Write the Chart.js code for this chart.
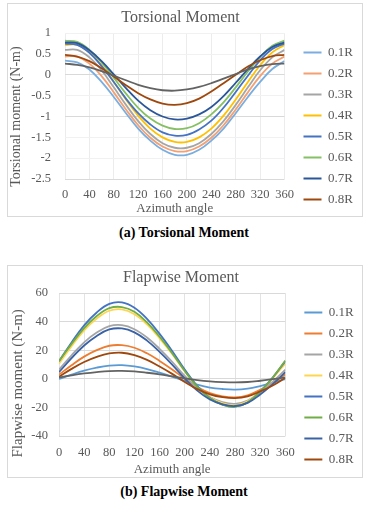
<!DOCTYPE html>
<html>
<head>
<meta charset="utf-8">
<script src="https://cdn.jsdelivr.net/npm/chart.js@4.4.1/dist/chart.umd.min.js"></script>
<style>
  body { margin: 0; background: #fff; font-family: "Liberation Serif", serif; }
  .frame { position: absolute; left: 7px; width: 356px; border: 1px solid #d9d9d9; box-sizing: border-box; }
  .frame canvas { display: block; }
  .caption { position: absolute; left: 0; width: 368px; text-align: center; font-weight: bold; font-size: 14px; line-height: 16px; color: #000; }
</style>
</head>
<body>
<div class="frame" style="top:3px;height:214px"><canvas id="torsion" width="354" height="212"></canvas></div>
<div class="caption" style="top:225px">(a) Torsional Moment</div>
<div class="frame" style="top:265px;height:213px"><canvas id="flap" width="354" height="211"></canvas></div>
<div class="caption" style="top:484px">(b) Flapwise Moment</div>
<script>
// azimuth angle (deg)
const angles = [0, 20, 40, 60, 80, 100, 120, 140, 160, 180, 200, 220, 240, 260, 280, 300, 320, 340, 360];
const radii = ['0.1R', '0.2R', '0.3R', '0.4R', '0.5R', '0.6R', '0.7R', '0.8R', '0.9R'];

// torsional moment (N-m)
const torsion01 = [0.34, 0.30, 0.13, -0.17, -0.53, -0.92, -1.29, -1.58, -1.80, -1.92, -1.92, -1.80, -1.58, -1.29, -0.92, -0.53, -0.17, 0.14, 0.33];
const torsion02 = [0.44, 0.44, 0.27, -0.03, -0.42, -0.83, -1.21, -1.51, -1.72, -1.83, -1.83, -1.72, -1.51, -1.21, -0.83, -0.42, -0.03, 0.27, 0.44];
const torsion03 = [0.60, 0.60, 0.42, 0.11, -0.30, -0.72, -1.11, -1.42, -1.64, -1.75, -1.75, -1.64, -1.42, -1.11, -0.72, -0.30, 0.11, 0.42, 0.60];
const torsion04 = [0.72, 0.72, 0.54, 0.23, -0.17, -0.59, -0.98, -1.29, -1.50, -1.61, -1.61, -1.50, -1.29, -0.98, -0.59, -0.17, 0.23, 0.54, 0.72];
const torsion05 = [0.75, 0.72, 0.53, 0.21, -0.17, -0.57, -0.92, -1.19, -1.38, -1.46, -1.44, -1.31, -1.10, -0.79, -0.41, -0.02, 0.35, 0.62, 0.75];
const torsion06 = [0.82, 0.79, 0.60, 0.30, -0.07, -0.45, -0.79, -1.05, -1.22, -1.30, -1.28, -1.16, -0.95, -0.66, -0.30, 0.08, 0.43, 0.70, 0.82];
const torsion07 = [0.78, 0.76, 0.59, 0.33, 0.01, -0.32, -0.62, -0.85, -1.00, -1.07, -1.05, -0.95, -0.77, -0.51, -0.19, 0.14, 0.44, 0.67, 0.78];
const torsion08 = [0.48, 0.44, 0.33, 0.16, -0.04, -0.25, -0.44, -0.59, -0.69, -0.72, -0.68, -0.57, -0.40, -0.20, 0.00, 0.20, 0.35, 0.45, 0.48];
const torsion09 = [0.27, 0.24, 0.18, 0.09, -0.02, -0.13, -0.24, -0.32, -0.37, -0.38, -0.35, -0.29, -0.20, -0.09, 0.02, 0.13, 0.21, 0.26, 0.27];

// flapwise moment (N-m)
const flap01 = [-0.1, 3.0, 5.8, 7.9, 9.3, 9.6, 8.7, 6.9, 4.4, 1.6, -1.4, -4.1, -6.1, -7.1, -7.5, -6.8, -5.0, -2.7, -0.1];
const flap02 = [3.0, 9.6, 15.6, 20.1, 23.2, 23.6, 21.8, 17.9, 12.6, 6.6, 0.1, -5.7, -9.9, -12.2, -13.0, -11.5, -7.6, -2.7, 3.0];
const flap03 = [6.5, 16.5, 25.6, 32.4, 36.9, 37.6, 34.8, 29.0, 21.0, 12.0, 2.1, -6.5, -12.8, -16.3, -17.5, -15.2, -9.4, -2.0, 6.5];
const flap04 = [10.7, 22.9, 33.9, 42.2, 47.7, 48.6, 45.2, 38.1, 28.4, 17.4, 5.4, -5.2, -12.8, -17.0, -18.5, -15.7, -8.7, 0.4, 10.7];
const flap05 = [12.3, 25.5, 37.5, 46.5, 52.5, 53.5, 49.8, 42.0, 31.5, 19.5, 6.5, -5.0, -13.3, -18.0, -19.5, -16.5, -8.8, 1.0, 12.3];
const flap06 = [12.5, 24.5, 35.5, 44.0, 49.5, 50.3, 47.0, 39.5, 29.5, 18.0, 5.5, -5.5, -13.6, -18.0, -19.5, -16.6, -9.0, 1.0, 12.8];
const flap07 = [4.7, 14.5, 23.4, 30.1, 34.6, 35.3, 32.6, 26.8, 18.9, 10.0, 0.3, -8.2, -14.4, -17.8, -19.0, -16.8, -11.0, -3.7, 4.7];
const flap08 = [1.5, 7.0, 11.8, 15.4, 17.8, 18.3, 16.6, 13.3, 8.7, 3.5, -2.2, -7.2, -10.8, -12.8, -13.5, -12.2, -8.8, -4.6, 0.8];
const flap09 = [1.0, 2.5, 3.8, 4.8, 5.5, 5.6, 5.2, 4.3, 3.2, 1.8, 0.4, -0.9, -1.8, -2.3, -2.5, -2.2, -1.3, -0.2, 1.0];

const torsionColors = ['#7aaee0', '#f3a073', '#a5a5a5', '#ffc000', '#4472c4', '#86c064', '#2b579a', '#9e480e', '#636363'];
const flapColors = ['#5b9bd5', '#ed7d31', '#a5a5a5', '#ffd54f', '#4472c4', '#70ad47', '#3a62a6', '#9e480e', '#636363'];

const serif = "'Liberation Serif', 'Times New Roman', serif";
const grey = '#595959';

const toDatasets = (series, colors) => series.map((vals, i) => ({
  label: radii[i],
  data: angles.map((a, k) => ({ x: a, y: vals[k] })),
  borderColor: colors[i],
  backgroundColor: colors[i],
  borderWidth: 1.8,
  pointRadius: 0,
  tension: 0.4,
  order: series.length - i
}));

function drawChart(id, cfg) {
  new Chart(document.getElementById(id), {
    type: 'line',
    data: { datasets: toDatasets(cfg.series, cfg.colors) },
    options: {
      responsive: false,
      animation: false,
      layout: { padding: { right: cfg.padRight } },
      plugins: {
        title: {
          display: true, text: cfg.title, color: grey,
          font: { family: serif, size: 16, weight: 'normal' },
          padding: cfg.titlePad
        },
        legend: {
          position: 'right',
          align: 'start',
          // empty legend title only pushes the entries down
          title: { display: true, text: '', font: { size: 10 }, padding: { top: cfg.legendTop, bottom: 0 } },
          labels: {
            filter: item => item.datasetIndex < 8,
            sort: (a, b) => a.datasetIndex - b.datasetIndex,
            usePointStyle: true, pointStyle: 'line', pointStyleWidth: 18,
            padding: 8, color: grey,
            font: { family: serif, size: 13 }
          }
        },
        tooltip: { enabled: false }
      },
      scales: {
        x: {
          type: 'linear', min: 0, max: 360,
          ticks: { stepSize: 40, autoSkip: false, maxRotation: 0, color: grey, padding: cfg.xTickPad, font: { family: serif, size: 12.5 } },
          grid: { color: cfg.xGrid, drawTicks: false },
          border: { display: false },
          title: { display: true, text: 'Azimuth angle', color: grey, padding: 0, font: { family: serif, size: 13 } },
          afterFit: a => { a.height = cfg.xHeight; }
        },
        y: {
          min: cfg.yMin, max: cfg.yMax,
          ticks: { stepSize: cfg.yStep, color: grey, padding: cfg.yTickPad, font: { family: serif, size: 12.5 }, callback: v => `${v}` },
          grid: { color: cfg.yGrid, drawTicks: false },
          border: { display: false },
          title: { display: true, text: cfg.yTitle, color: grey, padding: { top: cfg.yTitlePad }, font: { family: serif, size: cfg.yTitleSize } },
          afterFit: a => { a.width = cfg.yWidth; }
        },
        gap: {
          type: 'linear', position: 'right', display: true, min: 0, max: 1,
          grid: { display: false }, border: { display: false }, ticks: { display: false },
          afterFit: a => { a.width = cfg.gap; }
        }
      }
    }
  });
}

drawChart('torsion', {
  title: 'Torsional Moment',
  yTitle: 'Torsional moment (N-m)\u2003\u2002',
  yTitleSize: 14,
  series: [torsion01, torsion02, torsion03, torsion04, torsion05, torsion06, torsion07, torsion08, torsion09],
  colors: torsionColors,
  yMin: -2.5, yMax: 1, yStep: 0.5,
  yGrid: c => [0, -1, -2.5].includes(c.tick.value) ? '#d9d9d9' : '#f1f1f1',
  xGrid: '#ececec',
  titlePad: { top: 4, bottom: 6 },
  yWidth: 57, yTickPad: 14, yTitlePad: 0,
  xHeight: 37, xTickPad: 8,
  legendTop: 22,
  gap: 11, padRight: 9
});

drawChart('flap', {
  title: 'Flapwise Moment',
  yTitle: 'Flapwise moment (N-m)\u2003\u2003\u2002',
  yTitleSize: 15,
  series: [flap01, flap02, flap03, flap04, flap05, flap06, flap07, flap08, flap09],
  colors: flapColors,
  yMin: -40, yMax: 60, yStep: 20,
  yGrid: '#d9d9d9',
  xGrid: '#e3e3e3',
  titlePad: { top: 2, bottom: 6 },
  yWidth: 51, yTickPad: 11, yTitlePad: 1,
  xHeight: 41, xTickPad: 9,
  legendTop: 20,
  gap: 11, padRight: 8
});
</script>
</body>
</html>
